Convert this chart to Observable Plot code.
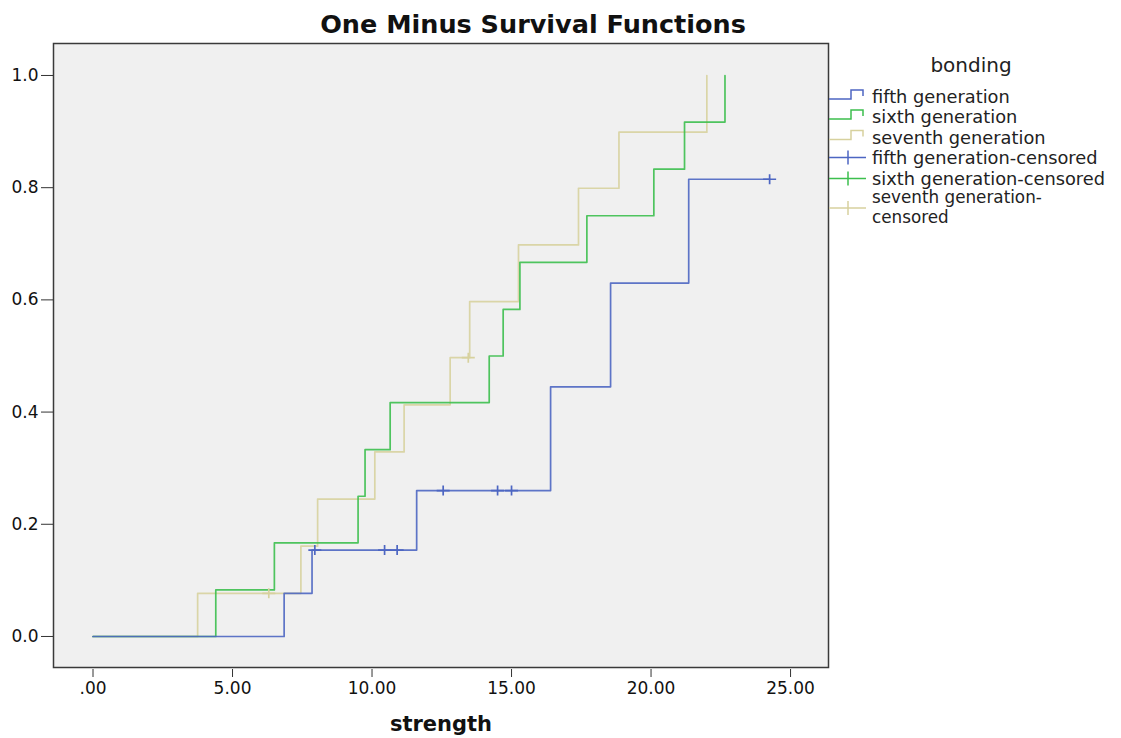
<!DOCTYPE html>
<html><head><meta charset="utf-8">
<script src="https://cdn.jsdelivr.net/npm/d3@7"></script>
<script src="https://cdn.jsdelivr.net/npm/@observablehq/plot@0.6"></script>
<style>body{margin:0;background:#fff;} svg{display:block}</style>
</head><body><div id="chart"></div>
<script>
// ---- data ----
const groups = ["fifth generation", "sixth generation", "seventh generation"];
const groupColors = ["#4d66c2", "#3cbf4e", "#d7d19e"];

// step points (strength, 1 - survival)
const fifthTimes  = [0, 6.85, 7.85, 11.6, 16.4, 18.55, 21.35, 24.25];
const fifthValues = [0, 0.077, 0.154, 0.260, 0.445, 0.630, 0.815, 0.815];
const sixthTimes  = [0, 4.4, 6.5, 9.5, 9.75, 10.65, 14.2, 14.7, 15.3, 17.7, 20.1, 21.2, 22.65];
const sixthValues = [0, 0.083, 0.167, 0.250, 0.333, 0.417, 0.500, 0.583, 0.667, 0.750, 0.833, 0.917, 1.0];
const seventhTimes  = [0, 3.75, 7.45, 8.05, 10.1, 11.15, 12.8, 13.5, 15.25, 17.4, 18.85, 22.0];
const seventhValues = [0, 0.077, 0.161, 0.245, 0.329, 0.413, 0.497, 0.597, 0.698, 0.799, 0.899, 1.0];

// censored observations
const fifthCensTimes  = [7.95, 10.45, 10.9, 12.55, 14.5, 15.0, 24.25];
const fifthCensValues = [0.154, 0.154, 0.154, 0.260, 0.260, 0.260, 0.815];
const sixthCensTimes = [];
const sixthCensValues = [];
const seventhCensTimes  = [6.3, 13.45];
const seventhCensValues = [0.077, 0.497];

const xTicks = [0, 5, 10, 15, 20, 25];
const yTicks = [0, 0.2, 0.4, 0.6, 0.8, 1.0];
const legendLabels = ["fifth generation", "sixth generation", "seventh generation",
  "fifth generation-censored", "sixth generation-censored", "seventh generation-censored"];

// ---- build tables ----
const stepSets = [[fifthTimes, fifthValues], [sixthTimes, sixthValues], [seventhTimes, seventhValues]];
const censSets = [[fifthCensTimes, fifthCensValues], [sixthCensTimes, sixthCensValues], [seventhCensTimes, seventhCensValues]];
const steps = [];
const cens = [];
// draw order: seventh, sixth, fifth (fifth on top)
[2, 1, 0].forEach(gi => {
  const [t, v] = stepSets[gi];
  t.forEach((d, i) => steps.push({group: groups[gi], t: d, p: v[i]}));
  const [ct, cv] = censSets[gi];
  ct.forEach((d, i) => cens.push({group: groups[gi], t: d, p: cv[i]}));
});

const plusSymbol = {
  draw(ctx, size) {
    const r = Math.sqrt(size / Math.PI);
    ctx.moveTo(-r * 1.3, 0); ctx.lineTo(r * 1.3, 0);
    ctx.moveTo(0, -r); ctx.lineTo(0, r);
  }
};

const W = 1121, H = 738;
const chart = Plot.plot({
  width: W, height: H,
  marginLeft: 53, marginRight: 293, marginTop: 43, marginBottom: 71,
  style: {fontFamily: "DejaVu Sans", background: "#fff", color: "#111"},
  x: {domain: [-1.416, 26.36]},
  y: {domain: [-0.0553, 1.057]},
  color: {domain: groups, range: groupColors},
  marks: [
    Plot.frame({fill: "#f0f0f0", stroke: "none"}),
    Plot.line(steps, {x: "t", y: "p", z: "group", stroke: "group", curve: "step-after", strokeWidth: 1.7, strokeOpacity: 0.9}),
    Plot.dot(cens, {x: "t", y: "p", stroke: "group", symbol: plusSymbol, r: 5, fill: "none", strokeWidth: 1.7}),
    Plot.frame({stroke: "#3a3a3a", strokeWidth: 1.5}),
    Plot.axisX({ticks: xTicks, tickFormat: d => d === 0 ? ".00" : d.toFixed(2), tickSize: 8, tickPadding: 4, dy: 2, fontSize: 17, label: null, stroke: "#333"}),
    Plot.axisY({ticks: yTicks, tickFormat: d => d.toFixed(1), tickSize: 12, tickPadding: 3, fontSize: 17, label: null, stroke: "#333"})
  ]
});
document.getElementById("chart").appendChild(chart);

const svg = d3.select(chart);
// title
svg.append("text").attr("x", 533).attr("y", 33).attr("text-anchor", "middle")
  .attr("font-family", "DejaVu Sans").attr("font-weight", "bold").attr("font-size", 25.5)
  .attr("fill", "#111").text("One Minus Survival Functions");
// x label
svg.append("text").attr("x", 441).attr("y", 731).attr("text-anchor", "middle")
  .attr("font-family", "DejaVu Sans").attr("font-weight", "bold").attr("font-size", 21)
  .attr("fill", "#111").text("strength");

// legend
const fs = 17.8;
const lg = svg.append("g").attr("font-family", "DejaVu Sans").attr("fill", "#222").attr("text-anchor", "start");
lg.append("text").attr("x", 971).attr("y", 72).attr("text-anchor", "middle").attr("font-size", 20).text("bonding");
const rowY = [97, 117, 137.5];
for (let i = 0; i < 3; i++) {
  const y = rowY[i];
  lg.append("path").attr("d", `M829,${y + 2}H851V${y - 7}H863V${y - 1}`)
    .attr("fill", "none").attr("stroke", groupColors[i]).attr("stroke-width", 1.5);
  lg.append("text").attr("x", 872).attr("y", y + 6).attr("font-size", fs).text(legendLabels[i]);
}
const plusRows = [157.5, 178.5, 208];
for (let i = 0; i < 3; i++) {
  const y = plusRows[i];
  lg.append("path").attr("d", `M829,${y}H866M848,${y - 7}V${y + 7}`)
    .attr("fill", "none").attr("stroke", groupColors[i]).attr("stroke-width", 1.5);
}
lg.append("text").attr("x", 872).attr("y", 157.5 + 6).attr("font-size", fs).text(legendLabels[3]);
lg.append("text").attr("x", 872).attr("y", 178.5 + 6).attr("font-size", fs).text(legendLabels[4]);
lg.append("text").attr("x", 872).attr("y", 203).attr("font-size", 16.8).text("seventh generation-");
lg.append("text").attr("x", 872).attr("y", 222.5).attr("font-size", 16.8).text("censored");
</script>
</body></html>
